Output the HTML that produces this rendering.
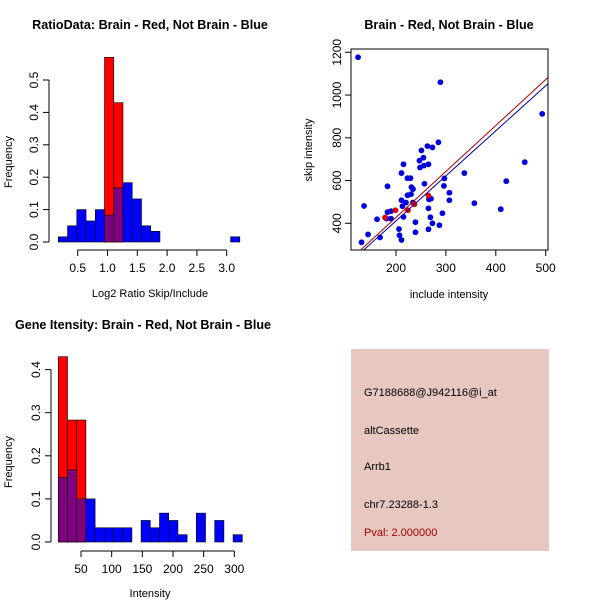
<!DOCTYPE html>
<html><head><meta charset="utf-8"><style>
body{margin:0;background:#fff;}
svg{display:block;font-family:"Liberation Sans",sans-serif;}
</style></head><body>
<svg id="c" width="600" height="600">
<rect x="351" y="349" width="198" height="202" fill="#e6c8c0"/>
<g font-size="11" fill="#000">
<text x="364" y="396">G7188688@J942116@i_at</text>
<text x="364" y="434">altCassette</text>
<text x="364" y="470">Arrb1</text>
<text x="364" y="508">chr7.23288-1.3</text>
<text x="364" y="536" fill="#a00000">Pval: 2.000000</text>
</g>
</svg>
<script>
// Histogram 1 data
const h1BlueStarts=[0.175,0.33,0.485,0.64,0.795,0.95,1.105,1.26,1.415,1.57,1.725,3.065];
const h1BlueVals=[0.016,0.05,0.1,0.065,0.1,0.083,0.167,0.183,0.133,0.05,0.033,0.016];
const h1RedStarts=[0.95,1.105];
const h1RedVals=[0.57,0.43];
const h1Width=0.155;
const h1XTicks=[0.5,1.0,1.5,2.0,2.5,3.0];
const h1YTicks=[0.0,0.1,0.2,0.3,0.4,0.5];
// Histogram 2 data
const h2Starts=[13,28,43,58,73,88,103,118,133,148,163,178,193,208,223,238,253,268,283,298];
const h2BlueVals=[0.15,0.167,0.1,0.1,0.033,0.033,0.033,0.033,0,0.05,0.033,0.067,0.05,0.017,0,0.067,0,0.05,0,0.017];
const h2RedVals=[0.43,0.283,0.283];
const h2Width=15;
const h2XTicks=[50,100,150,200,250,300];
const h2YTicks=[0.0,0.1,0.2,0.3,0.4];
// Scatter data
const scBlueX=[124,289,493,458,421,337,357,410,297,307,307,296,285,273,263,265,255,251,247,256,248,257,215,211,223,229,231,230,223,220,211,213,215,206,207,211,183,183,190,190,181,162,168,144,136,131,239,239,265,269,273,287,293,265,270,266,234,234];
const scBlueY=[1177,1060,912,686,597,635,494,466,610,543,508,575,779,755,761,676,707,741,693,670,661,585,676,635,611,611,569,536,531,497,508,480,430,373,344,322,573,452,457,422,422,419,334,348,481,311,405,358,372,428,400,391,447,470,515,512,497,560];
const scRedX=[178,199,224,237,265];
const scRedY=[427,461,461,489,530];
const scXTicks=[200,300,400,500];
const scYTicks=[400,600,800,1000,1200];
const fitRed=[-2.5,2.15];
const fitBlue=[-10,2.107];

const svg=document.getElementById('c');
const NS='http://www.w3.org/2000/svg';
function mk(tag,at,parent){const e=document.createElementNS(NS,tag);for(const k in at)e.setAttribute(k,at[k]);(parent||svg).appendChild(e);return e;}
function txt(s,at,parent){const e=mk('text',at,parent);e.textContent=s;return e;}

function hist(o){
  const g=mk('g',{});
  
  
  const X=v=>o.x0+(v-o.xv0)*o.xs, Y=v=>o.y0-v*o.ys;
  o.red.forEach((v,i)=>{const r=mk('rect',{x:X(o.redStarts[i]),y:Y(v),width:o.w*o.xs,height:v*o.ys,fill:'#ff0000',stroke:'#000','stroke-width':0.6},g);
    });
  o.blue.forEach((v,i)=>{if(v<=0)return;const s=o.blueStarts[i];
    let ri=o.redStarts.findIndex(a=>Math.abs(a-s)<1e-6);
    const col=ri>=0?'#800080':'#0000ff';
    const r=mk('rect',{x:X(s),y:Y(v),width:o.w*o.xs,height:v*o.ys,fill:col,stroke:'#000','stroke-width':0.6},g);
    });
  const ax=mk('g',{stroke:'#000','stroke-width':1},g);
  mk('line',{x1:X(o.xt[0]),x2:X(o.xt[o.xt.length-1]),y1:o.xAxisY,y2:o.xAxisY},ax);
  o.xt.forEach(t=>{mk('line',{x1:X(t),x2:X(t),y1:o.xAxisY,y2:o.xAxisY+6},ax);
    const l=txt(o.xfmt(t),{x:X(t),y:o.xAxisY+22,'text-anchor':'middle','font-size':12,stroke:'none'},g);
    });
  mk('line',{x1:o.yAxisX,x2:o.yAxisX,y1:Y(o.yt[0]),y2:Y(o.yt[o.yt.length-1])},ax);
  o.yt.forEach(t=>{mk('line',{x1:o.yAxisX-6,x2:o.yAxisX,y1:Y(t),y2:Y(t)},ax);
    const l=txt(t.toFixed(1),{x:0,y:0,'text-anchor':'middle','font-size':12,transform:`translate(${o.yAxisX-11},${Y(t)}) rotate(-90)`},g);
    });
  let t=txt(o.title,{x:o.titleX,y:o.titleY,'text-anchor':'middle','font-size':12.6,'font-weight':'bold'},g);
  
  t=txt(o.xlab,{x:o.xlabX,y:o.xlabY,'text-anchor':'middle','font-size':11},g);
  
  t=txt('Frequency',{x:0,y:0,'text-anchor':'middle','font-size':11,transform:`translate(12,${o.ylabY}) rotate(-90)`},g);
  
}
hist({name:'ratio-histogram',x0:77.7,xv0:0.5,xs:59.6,y0:242,ys:324,w:h1Width,
  blue:h1BlueVals,blueStarts:h1BlueStarts,red:h1RedVals,redStarts:h1RedStarts,
  xt:h1XTicks,yt:h1YTicks,xAxisY:250,yAxisX:49,xfmt:t=>t.toFixed(1),
  title:'RatioData: Brain - Red, Not Brain - Blue',titleX:150,titleY:29,
  xlab:'Log2 Ratio Skip/Include',xlabX:150,xlabY:297,ylabY:162});
hist({name:'intensity-histogram',x0:81,xv0:50,xs:0.6133,y0:542,ys:431,w:h2Width,
  blue:h2BlueVals,blueStarts:h2Starts,red:h2RedVals,redStarts:h2Starts.slice(0,3),
  xt:h2XTicks,yt:h2YTicks,xAxisY:551,yAxisX:51,xfmt:t=>String(t),
  title:'Gene Itensity: Brain - Red, Not Brain - Blue',titleX:143,titleY:329,
  xlab:'Intensity',xlabX:150,xlabY:597,ylabY:462});

(function(){
  const g=mk('g',{});
  
  
  const L=351,R=548,T=49,B=250;
  const X=v=>396+(v-200)*0.499, Y=v=>223.3-(v-400)*0.21375;
  mk('defs',{},g).innerHTML='<clipPath id="cp"><rect x="351" y="49" width="197" height="201"/></clipPath>';
  const pts=mk('g',{},g);
  scBlueX.forEach((x,i)=>{const c=mk('circle',{cx:X(x),cy:Y(scBlueY[i]),r:2.9,fill:'#0000dd'},pts);
    });
  scRedX.forEach((x,i)=>{const c=mk('circle',{cx:X(x),cy:Y(scRedY[i]),r:2.9,fill:'#dd0000'},pts);
    });
  const lg=mk('g',{'clip-path':'url(#cp)'},g);
  [[fitBlue,'#0000aa','blue-fit-line'],[fitRed,'#aa0000','red-fit-line']].forEach(([f,c,n])=>{
    const l=mk('line',{x1:X(100),y1:Y(f[0]+f[1]*100),x2:X(520),y2:Y(f[0]+f[1]*520),stroke:c,'stroke-width':1},lg);
    });
  const fr=mk('rect',{x:L,y:T,width:R-L,height:B-T,fill:'none',stroke:'#000','stroke-width':1},g);
  
  scXTicks.forEach(t=>{mk('line',{x1:X(t),x2:X(t),y1:B,y2:B+6,stroke:'#000'},g);
    const l=txt(String(t),{x:X(t),y:B+22,'text-anchor':'middle','font-size':12},g);
    });
  scYTicks.forEach(t=>{mk('line',{x1:L-6,x2:L,y1:Y(t),y2:Y(t),stroke:'#000'},g);
    const l=txt(String(t),{x:0,y:0,'text-anchor':'middle','font-size':12,transform:`translate(${L-10},${Y(t)}) rotate(-90)`},g);
    });
  let t=txt('Brain - Red, Not Brain - Blue',{x:449,y:29,'text-anchor':'middle','font-size':12.6,'font-weight':'bold'},g);
  
  t=txt('include intensity',{x:449,y:298,'text-anchor':'middle','font-size':11},g);
  
  t=txt('skip intensity',{x:0,y:0,'text-anchor':'middle','font-size':11,transform:'translate(312,150) rotate(-90)'},g);
  
})();
</script>
</body></html>
